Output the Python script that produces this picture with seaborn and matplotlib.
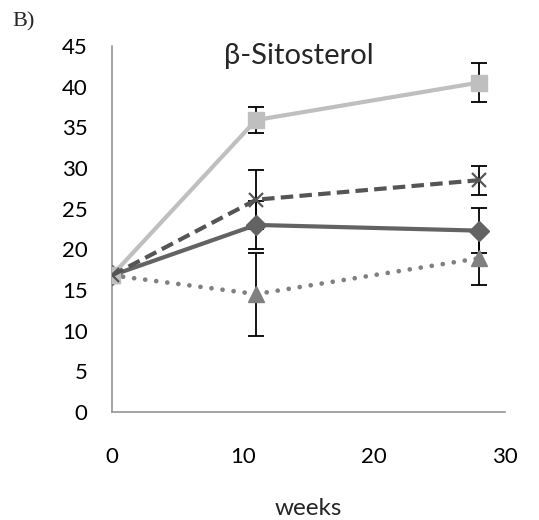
import numpy as np
import pandas as pd
import matplotlib
matplotlib.use("Agg")
import matplotlib.pyplot as plt
import seaborn as sns

weeks = [0, 11, 28]
diamond = [16.8, 23.0, 22.3]
diamond_err = [0.0, 3.0, 2.8]
triangle = [16.8, 14.5, 18.9]
triangle_err = [0.0, 5.1, 3.3]
square = [16.8, 35.9, 40.5]
square_err = [0.0, 1.6, 2.4]
cross = [16.8, 26.1, 28.5]
cross_err = [0.0, 3.6, 1.8]

xticks = [0, 10, 20, 30]
yticks = [0, 5, 10, 15, 20, 25, 30, 35, 40, 45]

sns.set_theme(style="white")
plt.rcParams['font.family'] = ['Lato', 'DejaVu Sans']

fig = plt.figure(figsize=(5.39, 5.20), dpi=100)
ax = fig.add_axes([112/539, 1-412/520, (505-112)/539, (412-46)/520])

series = [
    (diamond, diamond_err, "#636363", "D", 10, "solid", 3.0),
    (triangle, triangle_err, "#808080", "^", 12, "dotted", 3.4),
    (square, square_err, "#BFBFBF", "s", 12, "solid", 3.0),
    (cross, cross_err, "#555555", "x", 10, "dashed", 3.0),
]

for vals, errs, col, mk, ms, ls, lw in series:
    ax.errorbar(weeks, vals, yerr=errs, fmt="none", ecolor="black",
                elinewidth=1.3, capsize=6, capthick=1.3, zorder=2)

z = 3
for vals, errs, col, mk, ms, ls, lw in series:
    df = pd.DataFrame({"weeks": weeks, "val": vals})
    sns.lineplot(data=df, x="weeks", y="val", ax=ax, color=col, marker=mk,
                 markersize=ms, markeredgecolor=col, markerfacecolor=col,
                 markeredgewidth=1.6 if mk == "x" else 1.0,
                 linewidth=lw, zorder=z)
    line = ax.get_lines()[-1]
    if ls == "dashed":
        line.set_dashes((3.0, 1.5))
        line.set_dash_capstyle("butt")
    elif ls == "dotted":
        line.set_dashes((0.01, 2.35))
        line.set_dash_capstyle("round")
    z += 1

ax.set_xlim(0, 30)
ax.set_ylim(0, 45)
ax.set_xticks(xticks)
ax.set_yticks(yticks)
ax.set_xticklabels([str(t) for t in xticks])
ax.set_yticklabels([str(t) for t in yticks])

spine_col = "#959595"
for s in ["top", "right"]:
    ax.spines[s].set_visible(False)
for s in ["left", "bottom"]:
    ax.spines[s].set_color(spine_col)
    ax.spines[s].set_linewidth(1.2)

ax.tick_params(axis="both", direction="out", length=5.5, width=1.2, color=spine_col,
               labelsize=16, labelcolor="black")
ax.tick_params(axis="x", pad=20)
ax.tick_params(axis="y", pad=12)
ax.set_xlabel("weeks", fontsize=17.5, labelpad=22)
ax.set_ylabel("")

ax.text(0.475, 0.972, "β-Sitosterol", transform=ax.transAxes, fontsize=21,
        ha="center", va="center")
fig.text(12/539, 1-22/520, "B)", fontsize=16, family="Liberation Serif",
         ha="left", va="center")

fig.savefig("out.png", dpi=100)
